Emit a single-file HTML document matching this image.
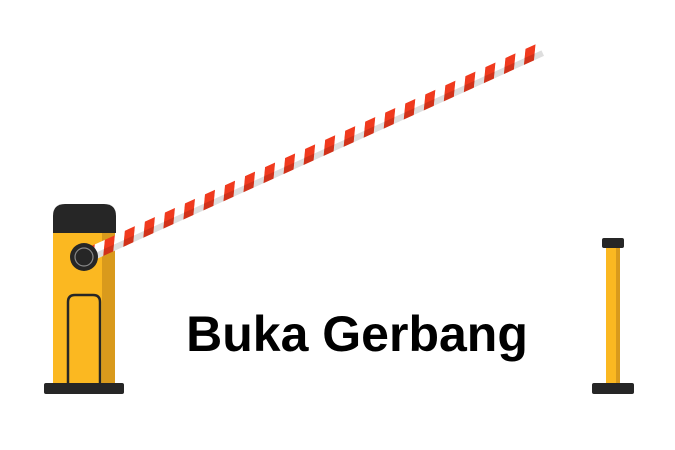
<!DOCTYPE html>
<html><head><meta charset="utf-8"><style>
html,body{margin:0;padding:0;background:#fff;width:675px;height:450px;overflow:hidden}
</style></head><body>
<svg width="675" height="450" viewBox="0 0 675 450" xmlns="http://www.w3.org/2000/svg">
<defs>
<pattern id="st" width="22" height="16" patternUnits="userSpaceOnUse" patternTransform="skewX(-30)">
<rect width="22" height="16" fill="#ffffff"/>
<rect width="11" height="16" fill="#f03a1e"/>
</pattern>
</defs>
<!-- left post -->
<rect x="53" y="228" width="62" height="156" fill="#fbb821"/>
<rect x="102" y="228" width="13" height="156" fill="#d99a1c"/>
<path d="M53 233 V216 Q53 204 65 204 H104 Q116 204 116 216 V233 Z" fill="#262626"/>
<path d="M68 384 V302 Q68 295 75 295 H93 Q100 295 100 302 V384" fill="none" stroke="#262626" stroke-width="2.5"/>
<rect x="44" y="383" width="80" height="11" rx="2" fill="#262626"/>
<!-- bar -->
<g transform="translate(84,257) rotate(-24.42)">
<rect x="0" y="-7" width="502" height="14" fill="url(#st)"/>
<rect x="0" y="1" width="502" height="6" fill="#000" opacity="0.13"/>
</g>
<circle cx="84" cy="257" r="14" fill="#262626"/>
<circle cx="84" cy="257" r="9" fill="none" stroke="#888" stroke-width="1.2"/>
<!-- right post -->
<rect x="606" y="247" width="14" height="137" fill="#fbb821"/>
<rect x="616" y="247" width="4" height="137" fill="#d99a1c"/>
<rect x="602" y="238" width="22" height="10" rx="2" fill="#262626"/>
<rect x="592" y="383" width="42" height="11" rx="2" fill="#262626"/>
<text x="357" y="351" text-anchor="middle" font-family="Liberation Sans, Arial, sans-serif" font-weight="bold" font-size="50" fill="#000">Buka Gerbang</text>
</svg>
</body></html>
